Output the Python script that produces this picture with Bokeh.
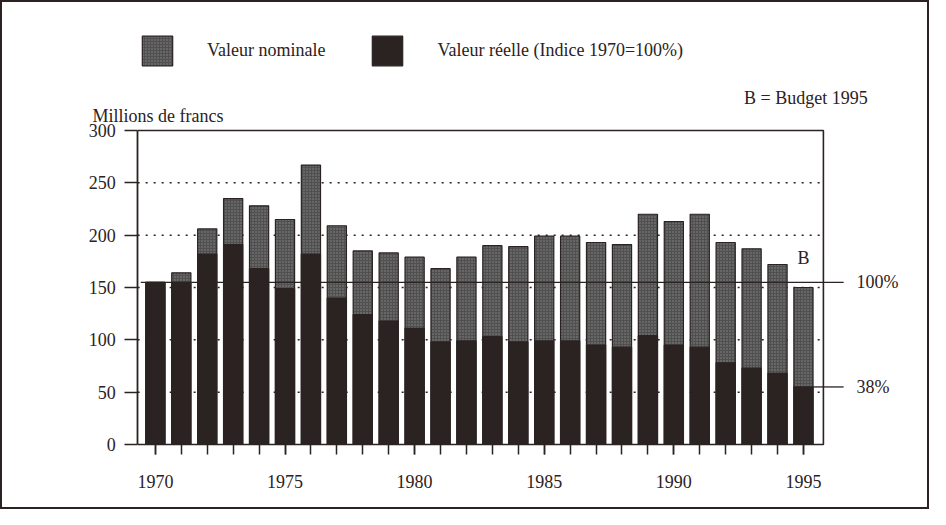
from bokeh.plotting import figure
from bokeh.models import Label, FixedTicker, Legend, LegendItem
from bokeh.embed import file_html
from bokeh.resources import INLINE

# ---- data -------------------------------------------------------------
years = list(range(1970, 1996))
nominal = [155, 164, 206, 235, 228, 215, 267, 209, 185, 183, 179, 168, 179,
           190, 189, 199, 199, 193, 191, 220, 213, 220, 193, 187, 172, 150]
real = [155, 155, 182, 191, 168, 149, 182, 140, 124, 118, 111, 98, 99,
        103, 98, 99, 99, 95, 93, 104, 95, 93, 78, 73, 68, 55]
y_ticks = [0, 50, 100, 150, 200, 250, 300]
grid_levels = [50, 100, 150, 200, 250]
x_label_years = [1970, 1975, 1980, 1985, 1990, 1995]
legend_labels = ["Valeur nominale", "Valeur réelle (Indice 1970=100%)"]
y_title = "Millions de francs"
budget_note = "B = Budget 1995"
budget_mark = "B"
pct_labels = ["100%", "38%"]

# ---- style ------------------------------------------------------------
PAPER = "#e1e3e2"
INK = "#2b2222"
GREY = "#505050"
STIPPLE = "#888888"
FONT = "Liberation Serif"
FS = "18px"

X0, X1 = 1964.102, 1999.94
Y0, Y1 = -64.0, 422.3
SPINE_X = 1969.316
FRAME_R = 1995.77
YMAX = 300
LINE_END = 1996.55
PCT_X = 1997.05

p = figure(width=929, height=509, x_range=(X0, X1), y_range=(Y0, Y1),
           output_backend="svg", toolbar_location=None,
           min_border_left=0, min_border_right=0, min_border_top=0,
           min_border_bottom=0,
           background_fill_alpha=0, border_fill_color=PAPER,
           outline_line_color=None,
           styles={"border": f"2px solid {INK}"})
p.grid.visible = False

# axes (placed inside the frame at fixed data locations)
xa = p.xaxis[0]
xa.fixed_location = 0
xa.ticker = FixedTicker(ticks=x_label_years, minor_ticks=years)
xa.bounds = (SPINE_X, FRAME_R)
xa.axis_line_color = None
xa.major_tick_line_color = INK
xa.minor_tick_line_color = INK
xa.major_tick_line_width = 1.5
xa.minor_tick_line_width = 1.5
xa.major_tick_in = 0
xa.major_tick_out = 10
xa.minor_tick_in = 0
xa.minor_tick_out = 10
xa.major_label_standoff = 20
xa.major_label_text_font = FONT
xa.major_label_text_font_size = FS
xa.major_label_text_color = INK

ya = p.yaxis[0]
ya.fixed_location = SPINE_X
ya.ticker = FixedTicker(ticks=y_ticks)
ya.bounds = (0, YMAX)
ya.axis_line_color = INK
ya.axis_line_width = 1.8
ya.major_tick_line_color = INK
ya.major_tick_line_width = 1.5
ya.minor_tick_line_color = None
ya.major_tick_in = 0
ya.major_tick_out = 13
ya.major_label_standoff = 9
ya.major_label_text_font = FONT
ya.major_label_text_font_size = FS
ya.major_label_text_color = INK

# dotted grid lines
p.multi_line(xs=[[SPINE_X, FRAME_R] for _ in grid_levels],
             ys=[[g, g] for g in grid_levels],
             line_color=INK, line_width=1.5, line_dash="2 6")

# bars
nom = p.vbar(x=years, top=nominal, width=0.74, fill_color=GREY,
             hatch_pattern=".", hatch_color=STIPPLE, hatch_scale=3,
             hatch_weight=1.0,
             line_color=INK, line_width=1.2)
rea = p.vbar(x=years, top=real, width=0.74, fill_color=INK,
             line_color=INK, line_width=1.2)

# inner frame (bottom, right, top)
p.line(x=[SPINE_X, FRAME_R, FRAME_R, SPINE_X], y=[0, 0, YMAX, YMAX],
       line_color=INK, line_width=1.6)

# 100% and 38% reference lines
p.segment(x0=[SPINE_X + 0.12], y0=[real[0]], x1=[LINE_END], y1=[real[0]],
          line_color=INK, line_width=1.3)
p.segment(x0=[years[-1] + 0.37], y0=[real[-1]], x1=[LINE_END], y1=[real[-1]],
          line_color=INK, line_width=1.3)

# legend
legend = Legend(items=[LegendItem(label=legend_labels[0], renderers=[nom]),
                       LegendItem(label=legend_labels[1], renderers=[rea])],
                orientation="horizontal", location=(136, 442),
                glyph_width=38, glyph_height=37, label_standoff=31,
                spacing=43, padding=0, margin=0,
                border_line_color=None, background_fill_alpha=0,
                label_text_font=FONT, label_text_font_size=FS,
                label_text_color=INK)
p.add_layout(legend)

def lab(x, y, text, **kw):
    p.add_layout(Label(x=x, y=y, text=text, text_font=FONT, text_font_size=FS,
                       text_color=INK, text_baseline="middle", **kw))

lab(1967.578, 313.4, y_title)
lab(1992.71, 331.5, budget_note)
lab(years[-1], 178, budget_mark, text_align="center")
lab(PCT_X, real[0], pct_labels[0])
lab(PCT_X, real[-1], pct_labels[1])

open("out.html", "w").write(file_html(p, INLINE))
